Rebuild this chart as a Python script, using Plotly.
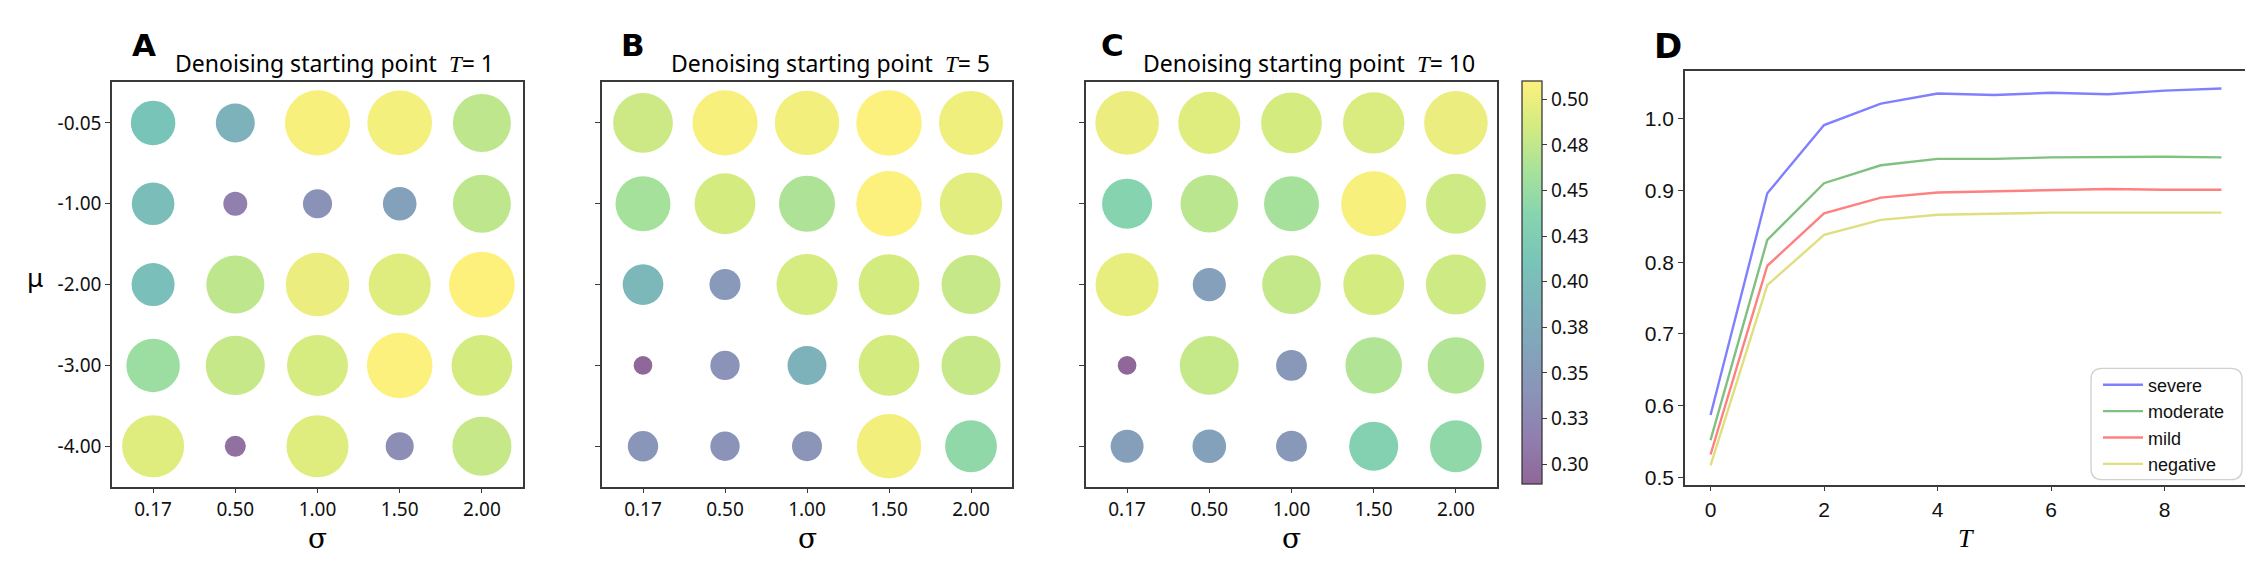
import plotly.graph_objects as go

W, H = 2253, 572

# ---------------- data ----------------
sigma_labels = ["0.17", "0.50", "1.00", "1.50", "2.00"]
mu_labels = ["-0.05", "-1.00", "-2.00", "-3.00", "-4.00"]

vals_T1 = [
    [0.410, 0.384, 0.506, 0.504, 0.473],
    [0.401, 0.314, 0.338, 0.359, 0.473],
    [0.403, 0.473, 0.499, 0.492, 0.509],
    [0.452, 0.478, 0.487, 0.508, 0.486],
    [0.492, 0.300, 0.492, 0.333, 0.478],
]
vals_T5 = [
    [0.481, 0.506, 0.503, 0.508, 0.501],
    [0.459, 0.486, 0.464, 0.508, 0.494],
    [0.392, 0.347, 0.487, 0.486, 0.478],
    [0.289, 0.339, 0.384, 0.486, 0.478],
    [0.344, 0.339, 0.342, 0.503, 0.444],
]
vals_T10 = [
    [0.499, 0.492, 0.486, 0.489, 0.499],
    [0.436, 0.471, 0.459, 0.506, 0.482],
    [0.497, 0.357, 0.476, 0.486, 0.482],
    [0.289, 0.477, 0.346, 0.466, 0.466],
    [0.356, 0.359, 0.346, 0.431, 0.444],
]
panel_T = ["1", "5", "10"]

cbar_tickvals = [0.300, 0.325, 0.350, 0.375, 0.400, 0.425, 0.450, 0.475, 0.500]
cbar_ticktext = ["0.30", "0.33", "0.35", "0.38", "0.40", "0.43", "0.45", "0.48", "0.50"]
cmin, cmax = 0.2888, 0.5098

T_steps = [0, 1, 2, 3, 4, 5, 6, 7, 8, 9]
severe = [0.587, 0.896, 0.991, 1.021, 1.035, 1.033, 1.036, 1.034, 1.039, 1.042]
moderate = [0.552, 0.831, 0.910, 0.935, 0.944, 0.944, 0.946, 0.947, 0.947, 0.946]
mild = [0.532, 0.795, 0.868, 0.890, 0.897, 0.899, 0.901, 0.902, 0.901, 0.901]
negative = [0.517, 0.768, 0.838, 0.859, 0.866, 0.868, 0.869, 0.869, 0.869, 0.869]
line_names = ["severe", "moderate", "mild", "negative"]

# ---------------- helpers ----------------
def fx(p):
    return p / W

def fy(p):
    return 1 - p / H

viridis = ['#440154', '#482878', '#3e4989', '#31688e', '#26828e',
           '#1f9e89', '#35b779', '#6ece58', '#b5de2b', '#fde725']
alpha = 0.6

def fade(hexc):
    r, g, b = int(hexc[1:3], 16), int(hexc[3:5], 16), int(hexc[5:7], 16)
    f = lambda c: round(alpha * c + (1 - alpha) * 255)
    return f"rgb({f(r)},{f(g)},{f(b)})"

colorscale = [[i / (len(viridis) - 1), fade(c)] for i, c in enumerate(viridis)]

def diam(v):
    return 18.6 + (v - cmin) * 214

FRAME = "#3a3a3a"
TXT = "#111111"
SANS = "Noto Sans"

fig = go.Figure()

# ---------------- bubble panels ----------------
panel_vals = [vals_T1, vals_T5, vals_T10]
for k, vals in enumerate(panel_vals):
    xs, ys, cs = [], [], []
    for i, mu in enumerate(mu_labels):
        for j, sg in enumerate(sigma_labels):
            xs.append(sg)
            ys.append(mu)
            cs.append(vals[i][j])
    sfx = "" if k == 0 else str(k + 1)
    fig.add_trace(go.Scatter(
        x=xs, y=ys, mode="markers", xaxis="x" + sfx, yaxis="y" + sfx,
        marker=dict(size=[diam(v) for v in cs], sizemode="diameter",
                    color=cs, coloraxis="coloraxis", line=dict(width=0),
                    opacity=1),
        showlegend=False, hoverinfo="x+y+text", text=[f"{v:.3f}" for v in cs],
    ))

# ---------------- line panel ----------------
line_colors = ["rgb(128,128,255)", "rgb(128,192,128)", "rgb(255,128,128)", "rgb(223,223,128)"]
for name, ys, col in zip(line_names, [severe, moderate, mild, negative], line_colors):
    fig.add_trace(go.Scatter(
        x=T_steps, y=ys, mode="lines", name=name, xaxis="x4", yaxis="y4",
        line=dict(color=col, width=2.4),
    ))

# ---------------- layout ----------------
frames_x = [(104, 515), (594, 1004), (1078, 1489)]
frame_y = (75, 482)

def cat_axis(dom, showlabels, labels):
    return dict(
        domain=dom, type="category", categoryorder="array", categoryarray=labels,
        range=[-0.5, 4.5], showline=True, mirror=True, linecolor=FRAME, linewidth=1.6,
        ticks="outside", ticklen=5, tickwidth=1.3, tickcolor=FRAME,
        showgrid=False, zeroline=False, showticklabels=showlabels,
        tickfont=dict(family=SANS, size=19, color=TXT), fixedrange=True,
    )

layout = dict(
    width=W, height=H, margin=dict(l=0, r=0, t=0, b=0),
    paper_bgcolor="white", plot_bgcolor="white",
    coloraxis=dict(
        colorscale=colorscale, cmin=cmin, cmax=cmax,
        colorbar=dict(
            x=fx(1514), xanchor="left", y=fy(74), yanchor="top",
            len=406 / H, lenmode="fraction", thickness=20, thicknessmode="pixels",
            outlinewidth=1.3, outlinecolor=FRAME,
            tickvals=cbar_tickvals, ticktext=cbar_ticktext,
            ticks="outside", ticklen=5, tickwidth=1.3, tickcolor=FRAME,
            tickfont=dict(family=SANS, size=19, color=TXT),
            xpad=0, ypad=0,
        ),
    ),
    showlegend=True,
    legend=dict(
        x=fx(2090), y=fy(361), xanchor="left", yanchor="top",
        bgcolor="rgba(0,0,0,0)", borderwidth=0,
        font=dict(family="Liberation Sans", size=18, color=TXT),
        itemwidth=40, tracegroupgap=0,
    ),
)

for k, (x0, x1) in enumerate(frames_x):
    sfx = "" if k == 0 else str(k + 1)
    layout["xaxis" + sfx] = cat_axis([fx(x0), fx(x1)], True, sigma_labels)
    layout["xaxis" + sfx]["anchor"] = "y" + sfx
    layout["yaxis" + sfx] = cat_axis([fy(frame_y[1]), fy(frame_y[0])], k == 0, mu_labels[::-1])
    layout["yaxis" + sfx]["anchor"] = "x" + sfx

layout["xaxis4"] = dict(
    domain=[fx(1677), fx(2239)], anchor="y4", range=[-0.45, 9.45],
    tickvals=[0, 2, 4, 6, 8], showline=True, mirror=True, linecolor=FRAME, linewidth=1.6,
    ticks="outside", ticklen=5, tickwidth=1.3, tickcolor=FRAME, showgrid=False, zeroline=False,
    tickfont=dict(family="Liberation Sans", size=21, color=TXT), fixedrange=True,
)
layout["yaxis4"] = dict(
    domain=[fy(480), fy(63)], anchor="x4", range=[0.49, 1.067],
    tickvals=[0.5, 0.6, 0.7, 0.8, 0.9, 1.0], tickformat=".1f",
    showline=True, mirror=True, linecolor=FRAME, linewidth=1.6,
    ticks="outside", ticklen=5, tickwidth=1.3, tickcolor=FRAME, showgrid=False, zeroline=False,
    tickfont=dict(family="Liberation Sans", size=21, color=TXT), fixedrange=True,
)

fig.update_layout(**layout)

# ---------------- text annotations ----------------
ann = []
letters = [("A", 136, 37, 31), ("B", 625, 37, 31), ("C", 1104, 37, 31), ("D", 1660, 38, 34)]
for t, x, y, s in letters:
    ann.append(dict(text=f"<b>{t}</b>", x=fx(x), y=fy(y), xref="paper", yref="paper",
                    showarrow=False, xanchor="center", yanchor="middle",
                    font=dict(family="DejaVu Sans", size=s, color="black")))

title_cx = [326, 822, 1301]
for tv, cx in zip(panel_T, title_cx):
    ann.append(dict(
        text=f"Denoising starting point&nbsp; <span style='font-family:Liberation Serif'><i>T</i></span>= {tv}",
        x=fx(cx), y=fy(55), xref="paper", yref="paper", showarrow=False,
        xanchor="center", yanchor="middle",
        font=dict(family=SANS, size=23, color="black")))

for (x0, x1) in frames_x:
    ann.append(dict(text="σ", x=fx((x0 + x1) / 2), y=fy(534), xref="paper", yref="paper",
                    showarrow=False, xanchor="center", yanchor="middle",
                    font=dict(family="DejaVu Serif", size=28, color="black")))
ann.append(dict(text="μ", x=fx(27), y=fy(271), xref="paper", yref="paper",
                showarrow=False, xanchor="center", yanchor="middle",
                font=dict(family=SANS, size=26, color="black")))
ann.append(dict(text="<i>T</i>", x=fx(1958), y=fy(534), xref="paper", yref="paper",
                showarrow=False, xanchor="center", yanchor="middle",
                font=dict(family="Liberation Serif", size=26, color="black")))
fig.update_layout(annotations=ann)

# rounded legend frame
lx0, lx1, ly0, ly1, r = 2083, 2234, 363, 475, 11
def P(x, y):
    return f"{fx(x)},{fy(y)}"
path = (f"M {P(lx0 + r, ly0)} L {P(lx1 - r, ly0)} Q {P(lx1, ly0)} {P(lx1, ly0 + r)} "
        f"L {P(lx1, ly1 - r)} Q {P(lx1, ly1)} {P(lx1 - r, ly1)} "
        f"L {P(lx0 + r, ly1)} Q {P(lx0, ly1)} {P(lx0, ly1 - r)} "
        f"L {P(lx0, ly0 + r)} Q {P(lx0, ly0)} {P(lx0 + r, ly0)} Z")
fig.add_shape(type="path", path=path, xref="paper", yref="paper",
              line=dict(color="#d0d0d0", width=1.3), fillcolor="rgba(255,255,255,0.8)", layer="below")

fig.write_html("out.html")
